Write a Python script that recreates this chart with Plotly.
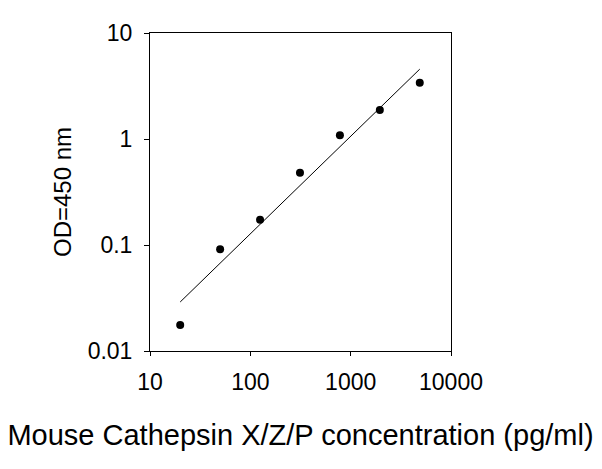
import plotly.graph_objects as go

# standard curve data
conc = [20, 50, 125, 312.5, 781.25, 1953, 4883]
od = [0.0176, 0.091, 0.173, 0.481, 1.087, 1.876, 3.39]

# fitted line end points
fit_x = [20, 4883]
fit_y = [0.029, 4.56]

x_ticks = [10, 100, 1000, 10000]
x_labels = ["10", "100", "1000", "10000"]
y_ticks = [0.01, 0.1, 1, 10]
y_labels = ["0.01", "0.1", "1", "10"]

fig = go.Figure()

fig.add_trace(go.Scatter(x=fit_x, y=fit_y, mode="lines",
                         line=dict(color="black", width=1),
                         hoverinfo="skip"))

fig.add_trace(go.Scatter(x=conc, y=od, mode="markers",
                         marker=dict(color="black", size=8)))

# page body adds ~8px offset, so margins are reduced accordingly
fig.update_layout(
    width=602, height=469,
    margin=dict(l=142, r=159, t=21, b=126),
    paper_bgcolor="white", plot_bgcolor="white",
    showlegend=False,
    font=dict(family="Liberation Sans, Arial", color="black"),
    xaxis=dict(type="log", range=[1, 4],
               tickvals=x_ticks, ticktext=x_labels,
               ticks="outside", ticklen=4, tickcolor="black",
               tickfont=dict(size=23), ticklabelstandoff=6,
               showline=True, linecolor="black", linewidth=1, mirror=True,
               showgrid=False, zeroline=False,
               title=dict(text="Mouse Cathepsin X/Z/P concentration (pg/ml)",
                          font=dict(size=29), standoff=31)),
    yaxis=dict(type="log", range=[-2, 1],
               tickvals=y_ticks, ticktext=y_labels,
               ticks="outside", ticklen=5, tickcolor="black",
               tickfont=dict(size=23), ticklabelstandoff=7,
               showline=True, linecolor="black", linewidth=1, mirror=True,
               showgrid=False, zeroline=False,
               title=dict(text="OD=450 nm", font=dict(size=24), standoff=9)),
)

fig.write_html("out.html")
